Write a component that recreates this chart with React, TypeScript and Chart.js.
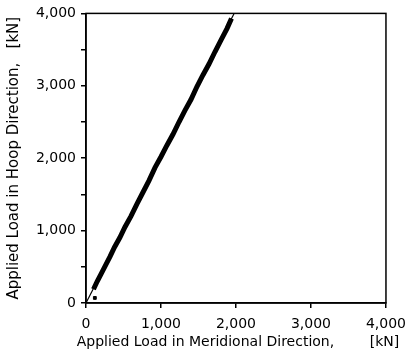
import React, { useEffect, useRef } from "react";
import { Chart, registerables } from "chart.js";

Chart.register(...registerables);

const meridional = [100, 150, 200, 260, 320, 380, 450, 520, 600, 680, 760, 840, 920, 1000, 1080, 1160, 1240, 1320, 1400, 1480, 1560, 1640, 1720, 1800, 1880, 1940];
const hoop = [190, 300, 400, 520, 640, 770, 900, 1050, 1200, 1370, 1530, 1690, 1870, 2020, 2180, 2330, 2500, 2660, 2810, 2990, 3150, 3300, 3470, 3630, 3790, 3930];
const refLineX = [0, 1975];
const refLineY = [0, 4000];
const strayX = [118];
const strayY = [70];
const tickValues = [0, 500, 1000, 1500, 2000, 2500, 3000, 3500, 4000];
const xTitle = "Applied Load in Meridional Direction,        [kN]";
const yTitle = "Applied Load in Hoop Direction,   [kN]";

const fmt = (v: number) => (v % 1000 === 0 ? v.toLocaleString("en-US") : "");
const FAMILY = "'DejaVu Sans', sans-serif";

const framePlugin = {
  id: "frame",
  afterDraw(chart: any) {
    const { ctx, chartArea } = chart;
    ctx.save();
    ctx.strokeStyle = "#000";
    ctx.lineWidth = 1.5;
    ctx.strokeRect(chartArea.left, chartArea.top, chartArea.right - chartArea.left, chartArea.bottom - chartArea.top);
    ctx.fillStyle = "#000";
    ctx.font = `14px ${FAMILY}`;
    ctx.textAlign = "center";
    ctx.textBaseline = "middle";
    ctx.fillText(xTitle, (chartArea.left + chartArea.right) / 2 + 2, 342);
    ctx.restore();
  },
};

export default function App() {
  const ref = useRef<HTMLCanvasElement>(null);
  useEffect(() => {
    const tickFont = { family: FAMILY, size: 14 };
    const titleFont = { family: FAMILY, size: 15 };
    const chart = new Chart(ref.current!, {
      type: "scatter",
      data: {
        datasets: [
          {
            data: refLineX.map((x, i) => ({ x, y: refLineY[i] })),
            showLine: true,
            borderColor: "#000",
            borderWidth: 1.2,
            pointRadius: 0,
          },
          {
            data: meridional.map((x, i) => ({ x, y: hoop[i] })),
            showLine: true,
            borderColor: "#000",
            borderWidth: 5,
            pointRadius: 0,
          },
          {
            data: strayX.map((x, i) => ({ x, y: strayY[i] })),
            backgroundColor: "#000",
            borderColor: "#000",
            pointStyle: "rect",
            pointRadius: 2,
          },
        ],
      },
      options: {
        animation: false,
        responsive: false,
        layout: { padding: { left: 0, right: 22, top: 12, bottom: 0 } },
        plugins: { legend: { display: false }, tooltip: { enabled: false } },
        scales: {
          x: {
            type: "linear",
            min: 0,
            max: 4000,
            afterBuildTicks: (s: any) => {
              s.ticks = tickValues.map((v) => ({ value: v }));
            },
            afterFit: (s: any) => {
              s.height = 59;
            },
            ticks: { color: "#000", font: tickFont, padding: 8, maxRotation: 0, callback: (v: any) => fmt(Number(v)) },
            grid: { drawOnChartArea: false, drawTicks: true, tickLength: 5, color: "#000", lineWidth: 1.5 },
            border: { color: "#000", width: 1.5 },
            title: { display: false },
          },
          y: {
            type: "linear",
            min: 0,
            max: 4000,
            afterBuildTicks: (s: any) => {
              s.ticks = tickValues.map((v) => ({ value: v }));
            },
            afterFit: (s: any) => {
              s.width = 86;
            },
            ticks: { color: "#000", font: tickFont, padding: 5, callback: (v: any) => fmt(Number(v)) },
            grid: { drawOnChartArea: false, drawTicks: true, tickLength: 5, color: "#000", lineWidth: 1.5 },
            border: { color: "#000", width: 1.5 },
            title: {
              display: true,
              text: yTitle,
              color: "#000",
              font: titleFont,
              padding: { top: 5, bottom: 0 },
            },
          },
        },
      },
      plugins: [framePlugin],
    });
    return () => chart.destroy();
  }, []);
  return (
    <div style={{ position: "absolute", left: 0, top: 0, width: 414, height: 362, background: "#fff" }}>
      <canvas ref={ref} width={414} height={362} />
    </div>
  );
}
